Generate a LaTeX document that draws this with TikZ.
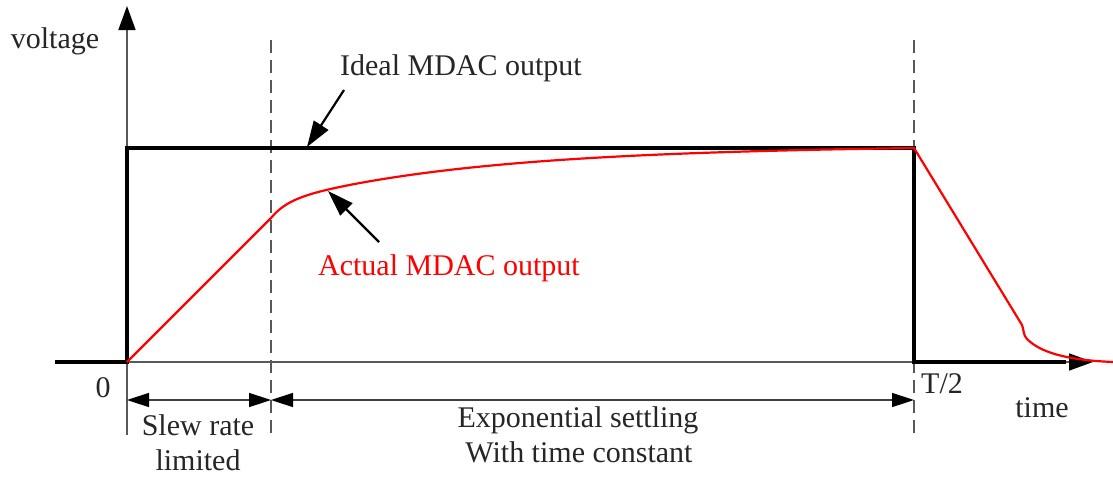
\documentclass[tikz,border=0pt]{standalone}
\usepackage{fontspec}
\setmainfont{Liberation Serif}
\usetikzlibrary{arrows.meta}
\begin{document}
\begin{tikzpicture}[x=1pt,y=-1pt,
  lbl/.style={font=\fontsize{30}{36}\selectfont, inner sep=0pt, anchor=base, text=black!85},
  axisline/.style={draw=black!65, line width=1.6pt},
  pulse/.style={draw=black, line width=4.5pt, line join=miter},
  actual/.style={draw=red, line width=2.2pt, line join=round},
  guide/.style={draw=black!65, line width=1.5pt, dash pattern=on 13pt off 7pt},
  dimline/.style={draw=black!75, line width=1.5pt, {Triangle[length=22pt,width=14pt,color=black]}-{Triangle[length=22pt,width=14pt,color=black]}},
  callout/.style={draw=black, line width=2.2pt, -{Triangle[length=26pt,width=17pt]}},
  axtip/.style={-{Triangle[length=24pt,width=17pt,color=black]}}
]
\useasboundingbox[fill=white] (0,0) rectangle (1113,479);

% coordinates
\coordinate (O) at (127,362);
\coordinate (Ytop) at (127,6);
\coordinate (Ybot) at (127,435);
\coordinate (Xstart) at (55,362);
\coordinate (Xend) at (1093,362);
\coordinate (P1) at (127,148);
\coordinate (P2) at (914,148);
\coordinate (P3) at (914,362);
\coordinate (P4) at (1066,362);
\coordinate (S1) at (271,40);
\coordinate (S2) at (271,435);
\coordinate (T1) at (914,40);
\coordinate (T2) at (914,435);
\coordinate (D0) at (127,400);
\coordinate (D1) at (271,400);
\coordinate (D2) at (914,400);
\coordinate (IA) at (344,90);
\coordinate (IB) at (307,147);
\coordinate (AA) at (379,242);
\coordinate (AB) at (328,191);
\coordinate (K) at (271,218);

% guide lines
\draw[guide] (S1) -- (S2);
\draw[guide] (T1) -- (T2);

% axes
\draw[axisline, axtip] (Ybot) -- (Ytop);
\draw[axisline, axtip] (O) -- (Xend);

% ideal pulse
\draw[pulse] (Xstart) -- (O) -- (P1) -- (P2) -- (P3) -- (P4);

% actual output
\draw[actual] (O) -- (K)
  -- plot[domain=271:914, samples=160, variable=\t]
     ({\t},{148 + 15*exp((271-\t)/15.7) + 55*exp((271-\t)/200) - 2.2*(\t-271)/643})
  -- (1022,325) .. controls (1024,330) and (1023,335) .. (1027,339)
  .. controls (1040,352) and (1065,360) .. (1113,362);

% dimension arrows
\draw[dimline] (D0) -- (D1);
\draw[dimline] (D1) -- (D2);

% callouts
\draw[callout] (IA) -- (IB);
\draw[callout] (AA) -- (AB);

% labels
\node[lbl] (voltage) at (55,48) {voltage};
\node[lbl] (zero) at (103,397) {0};
\node[lbl] (slew1) at (198,435) {Slew rate};
\node[lbl] (slew2) at (198,470) {limited};
\node[lbl] (exp1) at (578,427) {Exponential settling};
\node[lbl] (exp2) at (579,462) {With time constant};
\node[lbl] (half) at (942,393) {T/2};
\node[lbl] (time) at (1042,417) {time};
\node[lbl] (ideal) at (461,75) {Ideal MDAC output};
\node[lbl, text=red] (actual) at (449,275) {Actual MDAC output};
\end{tikzpicture}
\end{document}
